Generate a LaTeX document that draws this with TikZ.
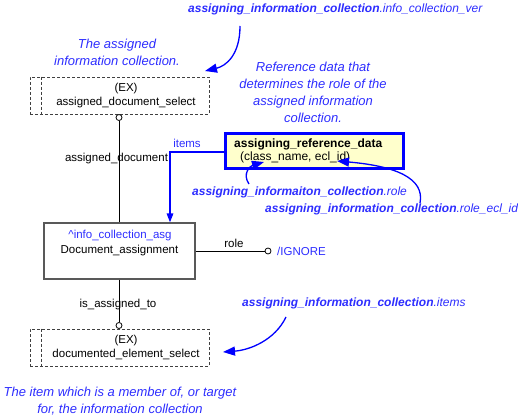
\documentclass[tikz,border=0pt]{standalone}
\usepackage{fontspec}
\setmainfont{Liberation Sans}
\usetikzlibrary{arrows.meta}
\definecolor{cblue}{RGB}{45,45,255}
\definecolor{ablue}{RGB}{0,0,255}
\definecolor{ryellow}{RGB}{255,255,204}
\begin{document}
\begin{tikzpicture}[x=1pt,y=-1pt,
  lbl/.style={font=\fontsize{11.5}{14}\selectfont, inner sep=0pt},
  boxlbl/.style={font=\fontsize{12}{14}\selectfont, inner sep=0pt, anchor=west},
  note/.style={font=\fontsize{13}{16.8}\selectfont\itshape, text=cblue, align=center, inner sep=0pt},
  callout/.style={font=\fontsize{12}{14}\selectfont\itshape, text=cblue, inner sep=0pt, anchor=west},
  dashln/.style={draw=black!75, dash pattern=on 3pt off 2pt, line width=0.8pt},
  selbox/.style={dashln, minimum width=179pt, minimum height=37pt, inner sep=0pt},
  ring/.style={circle, draw, inner sep=0pt, minimum size=6pt, line width=0.8pt, fill=white},
  curvarrow/.style={draw=ablue, line width=1.3pt, -{Triangle[length=12pt,width=9pt]}},
  itemarrow/.style={draw=ablue, line width=1.5pt, -{Triangle[length=9pt,width=6.5pt]}},
]
\useasboundingbox (0,0) rectangle (518,419);

% top select box
\node[selbox] (sel1) at (119.5,95.5) {};
\draw[dashln] ([xshift=12pt]sel1.north west) -- ([xshift=12pt]sel1.south west);
\node[lbl, align=center] (sel1t) at (126,96) {(EX)\\assigned\_document\_select};

% document assignment box
\node[draw=black!65, line width=1.2pt, minimum width=151pt, minimum height=56pt, inner sep=0pt] (doc) at (119.5,251) {};
\node[lbl, text=cblue] (docst) at (120,236) {\textasciicircum info\_collection\_asg};
\node[lbl] (docname) at (119.5,251) {Document\_assignment};

% bottom select box
\node[selbox] (sel2) at (119.5,347.5) {};
\draw[dashln] ([xshift=12pt]sel2.north west) -- ([xshift=12pt]sel2.south west);
\node[lbl, align=center] (sel2t) at (126,347) {(EX)\\documented\_element\_select};

% assigned_document relation
\node[ring] (c1) at (119,117.5) {};
\draw[line width=0.8pt] (c1.south) -- (c1 |- doc.north);
\node[lbl] (ladoc) at (116.5,159) {assigned\_document};

% role relation
\node[ring] (c2) at (268,251) {};
\draw[line width=0.8pt] (doc.east |- c2) -- (c2.west);
\node[lbl] (lrole) at (234,243) {role};
\node[lbl, text=cblue, anchor=west] (ign) at (277,251.5) {/IGNORE};

% is_assigned_to relation
\node[ring] (c3) at (119,325.5) {};
\draw[line width=0.8pt] (c3 |- doc.south) -- (c3.north);
\node[lbl] (lis) at (118,305) {is\_assigned\_to};

% reference data box
\node[draw=ablue, line width=2.6pt, fill=ryellow, minimum width=178.5pt, minimum height=35.5pt, inner sep=0pt] (ref) at (314.5,151) {};
\node[boxlbl] (reft) at (234,144) {\textbf{assigning\_reference\_data}};
\node[boxlbl] (refa) at (240,157) {(class\_name, ecl\_id)};

% items
\draw[itemarrow] ([yshift=-1pt]ref.west) -| ([xshift=50.5pt]doc.north);
\node[lbl, text=cblue] (litems) at (187,143) {items};

% notes
\node[note] (n1) at (117,52.5) {The assigned\\information collection.};
\node[note] (n2) at (313,92.5) {Reference data that\\determines the role of the\\assigned information\\collection.};
\node[note] (n3) at (120,401.5) {The item which is a member of, or target\\for, the information collection};

% callouts
\node[callout] (co1) at (188,9) {\textbf{assigning\_information\_collection}.info\_collection\_ver};
\coordinate (a1s) at (240,26);
\coordinate (a1e) at (205,71);
\draw[curvarrow] (a1s) .. controls (240,55) and (226,66) .. (a1e);

\node[callout] (co2) at (192,192) {\textbf{assigning\_informaiton\_collection}.role};
\coordinate (a2s) at (249,184);
\coordinate (a2e) at (264,162);
\draw[curvarrow] (a2s) .. controls (242,174) and (250,166) .. (a2e);

\node[callout] (co3) at (265,209) {\textbf{assigning\_information\_collection}.role\_ecl\_id};
\coordinate (a3s) at (420,203);
\coordinate (a3e) at (337,161);
\draw[curvarrow] (a3s) .. controls (425,178) and (395,166) .. (a3e);

\node[callout] (co4) at (242,303) {\textbf{assigning\_information\_collection}.items};
\coordinate (a4s) at (286,317);
\coordinate (a4e) at (223,352);
\draw[curvarrow] (a4s) .. controls (275,340) and (250,350) .. (a4e);
\end{tikzpicture}
\end{document}
